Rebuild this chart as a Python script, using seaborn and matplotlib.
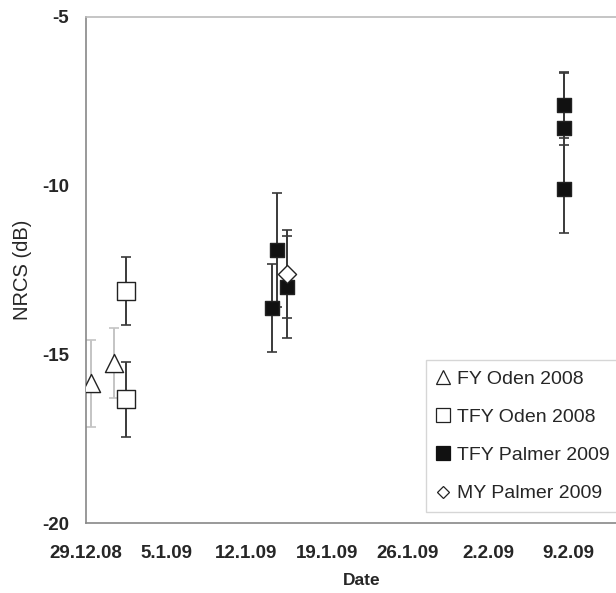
import matplotlib
matplotlib.use("Agg")
import matplotlib.pyplot as plt
import matplotlib.dates as mdates
from matplotlib.lines import Line2D
import pandas as pd
import seaborn as sns

# ── Data ──────────────────────────────────────────────────────────────────────
fy_oden_dates = ["2008-12-29 11:00", "2008-12-31 11:00"]
fy_oden_nrcs = [-15.85, -15.26]
fy_oden_err = [1.29, 1.04]

tfy_oden_dates = ["2009-01-01 12:00", "2009-01-01 12:00"]
tfy_oden_nrcs = [-13.12, -16.33]
tfy_oden_err = [1.0, 1.11]

tfy_palmer_dates = ["2009-01-14 04:30", "2009-01-14 15:00", "2009-01-15 12:00",
                    "2009-02-08 14:00", "2009-02-08 14:00", "2009-02-08 14:00"]
tfy_palmer_nrcs = [-13.62, -11.9, -13.0, -7.61, -8.29, -10.1]
tfy_palmer_err = [1.3, 1.69, 1.5, 0.97, 1.62, 1.3]

my_palmer_dates = ["2009-01-15 12:00"]
my_palmer_nrcs = [-12.62]
my_palmer_err = [1.3]

x_start = "2008-12-29"
x_end = "2009-02-14 08:30"
y_ticks = [-5, -10, -15, -20]

sns.set_style("white")
plt.rcParams["font.family"] = ["Liberation Sans", "DejaVu Sans"]

fig = plt.figure(figsize=(6.16, 5.93), dpi=100)
ax = fig.add_axes([0.1388, 0.1175, 0.884, 0.8543])

groups = [
    # dates, values, errors, marker, face, size, errcolor
    (fy_oden_dates, fy_oden_nrcs, fy_oden_err, "^", "white", 170, "#c4c4c4"),
    (tfy_oden_dates, tfy_oden_nrcs, tfy_oden_err, "s", "white", 170, "#3a3a3a"),
    (tfy_palmer_dates, tfy_palmer_nrcs, tfy_palmer_err, "s", "#111111", 100, "#3a3a3a"),
    (my_palmer_dates, my_palmer_nrcs, my_palmer_err, "D", "white", 85, "#3a3a3a"),
]

for dates, vals, errs, mk, face, size, ecol in groups:
    df = pd.DataFrame({"date": pd.to_datetime(dates), "nrcs": vals})
    ax.errorbar(df["date"], df["nrcs"], yerr=errs, fmt="none", ecolor=ecol,
                elinewidth=1.4, capsize=3.5, capthick=1.2, zorder=2)
    sns.scatterplot(data=df, x="date", y="nrcs", marker=mk, s=size,
                    facecolor=face, edgecolor="#222222", linewidth=1.0,
                    ax=ax, zorder=3, legend=False)

ax.set_xlim(pd.Timestamp(x_start), pd.Timestamp(x_end))
ax.set_ylim(-20, -5)
ax.set_yticks(y_ticks)
ax.set_yticklabels([str(t) for t in y_ticks], fontsize=13.5, fontweight="bold")

week_ticks = pd.date_range(x_start, periods=7, freq="7D")
ax.set_xticks(week_ticks)
ax.set_xticklabels([f"{d.day}.{d.month}.{d:%y}" for d in week_ticks],
                   fontsize=13.5, fontweight="bold")
ax.xaxis.set_minor_locator(mdates.DayLocator())

ax.tick_params(axis="x", which="major", direction="inout", length=7, width=1,
               color="#888888", pad=12)
ax.tick_params(axis="x", which="minor", direction="in", length=4, width=0.8,
               color="#999999")
ax.tick_params(axis="y", which="major", direction="out", length=4, width=1,
               color="#888888", pad=8)

for side in ["left", "bottom"]:
    ax.spines[side].set_color("#888888")
    ax.spines[side].set_linewidth(1.2)
ax.spines["top"].set_color("#bbbbbb")
ax.spines["top"].set_linewidth(1.2)
ax.spines["right"].set_visible(False)

ax.set_ylabel("NRCS (dB)", fontsize=14.5, labelpad=7)
ax.set_xlabel("Date", fontsize=12.5, fontweight="bold")
ax.xaxis.set_label_coords(0.508, -0.098)

handles = [
    Line2D([], [], ls="none", marker="^", ms=10, mfc="white", mec="#222222", mew=0.9),
    Line2D([], [], ls="none", marker="s", ms=9.5, mfc="white", mec="#222222", mew=0.9),
    Line2D([], [], ls="none", marker="s", ms=9.5, mfc="#111111", mec="#111111", mew=0.9),
    Line2D([], [], ls="none", marker="D", ms=6.5, mfc="white", mec="#222222", mew=0.9),
]
labels = ["FY Oden 2008", "TFY Oden 2008", "TFY Palmer 2009", "MY Palmer 2009"]
leg = ax.legend(handles, labels, loc="lower left", bbox_to_anchor=(0.625, 0.022),
                fontsize=14, frameon=True, fancybox=False, handlelength=0.8,
                handletextpad=0.3, labelspacing=1.06, borderpad=0.5,
                borderaxespad=0)
leg.get_frame().set_edgecolor("#cccccc")
leg.get_frame().set_linewidth(1)

fig.savefig("out.png", dpi=100)
